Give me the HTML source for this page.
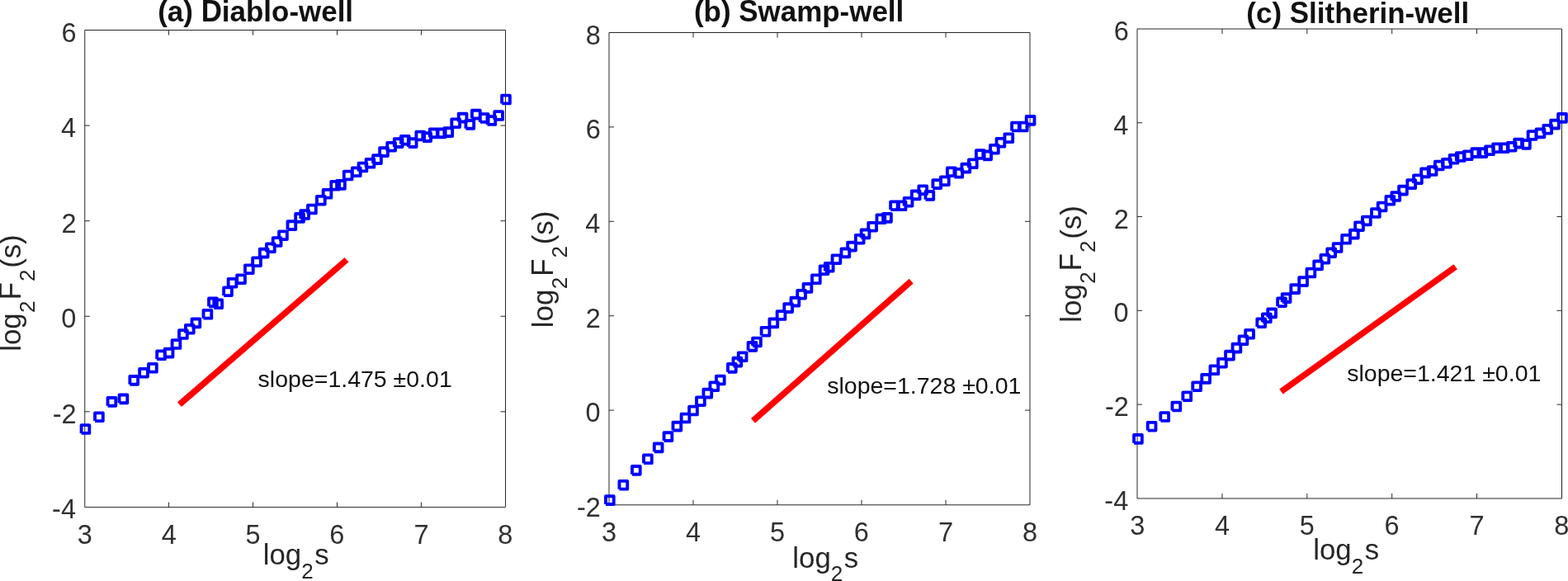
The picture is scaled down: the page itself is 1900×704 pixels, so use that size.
<!DOCTYPE html>
<html><head><meta charset="utf-8"><title>DFA fluctuation plots</title>
<style>
html,body{margin:0;padding:0;background:#fff;}
body{width:1900px;height:704px;overflow:hidden;}
svg{display:block;font-family:"Liberation Sans",Arial,Helvetica,sans-serif;font-kerning:none;}
</style></head><body>
<svg width="1900" height="704" viewBox="0 0 1900 704">
<rect width="1900" height="704" fill="#fff"/>
<path d="M102.75 36.5H612.5V614.6H102.75Z" fill="none" stroke="#262626" stroke-width="1"/>
<path d="M204.56 614.6v-6M204.56 36.5v6M306.52 614.6v-6M306.52 36.5v6M408.48 614.6v-6M408.48 36.5v6M510.44 614.6v-6M510.44 36.5v6M102.75 498.82h6M612.5 498.82h-6M102.75 383.24h6M612.5 383.24h-6M102.75 267.66h6M612.5 267.66h-6M102.75 152.08h6M612.5 152.08h-6" stroke="#262626" stroke-width="1" fill="none"/>
<text x="93.66" y="658.8" font-size="32.5" fill="#303030">3</text>
<text x="195.63" y="658.8" font-size="32.5" fill="#303030">4</text>
<text x="297.51" y="658.8" font-size="32.5" fill="#303030">5</text>
<text x="399.33" y="658.8" font-size="32.5" fill="#303030">6</text>
<text x="501.39" y="658.8" font-size="32.5" fill="#303030">7</text>
<text x="603.36" y="658.8" font-size="32.5" fill="#303030">8</text>
<text x="63.1" y="628.4" font-size="32.5" fill="#303030">-4</text>
<text x="63.79" y="512.82" font-size="32.5" fill="#303030">-2</text>
<text x="74.24" y="397.24" font-size="32.5" fill="#303030">0</text>
<text x="74.61" y="281.66" font-size="32.5" fill="#303030">2</text>
<text x="73.93" y="166.08" font-size="32.5" fill="#303030">4</text>
<text x="74.4" y="50.5" font-size="32.5" fill="#303030">6</text>
<text x="191.21" y="26.1" font-size="34.95" font-weight="bold" fill="#111">(a) </text>
<text transform="translate(243.63 26.1) scale(1 1.04)" font-size="34.95" font-weight="bold" fill="#111">D</text>
<text x="268.87" y="26.1" font-size="34.95" font-weight="bold" fill="#111">iablo-well</text>
<text x="318.76" y="684.4" font-size="34.8" fill="#262626">log</text>
<text x="365.19" y="700.8" font-size="26" fill="#262626">2</text>
<text x="381.13" y="684.4" font-size="34.8" fill="#262626">s</text>
<g transform="translate(25.2 423.4) rotate(-90)">
<text x="-2.34" y="0" font-size="34.8" fill="#262626">log</text>
<text x="44.49" y="16.6" font-size="26" fill="#262626">2</text>
<text transform="translate(60.15 0) scale(1 1.045)" font-size="34.8" fill="#262626">F</text>
<text x="82.39" y="16.6" font-size="26" fill="#262626">2</text>
<text x="98.54" y="0" font-size="34.8" fill="#262626">(s)</text>
</g>
<line x1="217.45" y1="490.2" x2="420.05" y2="314.75" stroke="#ff0000" stroke-width="7.6"/>
<text x="312.61" y="469.4" font-size="28.5" fill="#111">slope=1.475 ±0.01</text>
<path d="M98.57 524.88v-9.75h9.75v9.75h-9.75M115.05 510.07v-9.75h9.75v9.75h-9.75M130.55 491.77v-9.75h9.75v9.75h-9.75M144.57 488.27v-9.75h9.75v9.75h-9.75M157.37 465.77v-9.75h9.75v9.75h-9.75M169.14 456.57v-9.75h9.75v9.75h-9.75M180.04 450.68v-9.75h9.75v9.75h-9.75M190.19 435.18v-9.75h9.75v9.75h-9.75M199.69 432.48v-9.75h9.75v9.75h-9.75M208.6 421.88v-9.75h9.75v9.75h-9.75M217.01 409.88v-9.75h9.75v9.75h-9.75M224.96 403.62v-9.75h9.75v9.75h-9.75M232.51 396.27v-9.75h9.75v9.75h-9.75M246.53 385.68v-9.75h9.75v9.75h-9.75M253.07 371.27v-9.75h9.75v9.75h-9.75M259.33 373.18v-9.75h9.75v9.75h-9.75M271.1 358.07v-9.75h9.75v9.75h-9.75M276.65 347.62v-9.75h9.75v9.75h-9.75M287.16 343.07v-9.75h9.75v9.75h-9.75M296.97 331.12v-9.75h9.75v9.75h-9.75M306.17 322.07v-9.75h9.75v9.75h-9.75M314.83 311.48v-9.75h9.75v9.75h-9.75M323 305.18v-9.75h9.75v9.75h-9.75M330.74 297.88v-9.75h9.75v9.75h-9.75M338.1 290.07v-9.75h9.75v9.75h-9.75M348.49 277.98v-9.75h9.75v9.75h-9.75M358.19 268.77v-9.75h9.75v9.75h-9.75M364.32 264.88v-9.75h9.75v9.75h-9.75M373.06 258.38v-9.75h9.75v9.75h-9.75M383.96 247.57v-9.75h9.75v9.75h-9.75M391.64 239.68v-9.75h9.75v9.75h-9.75M401.29 229.57v-9.75h9.75v9.75h-9.75M408.13 228.78v-9.75h9.75v9.75h-9.75M416.79 217.38v-9.75h9.75v9.75h-9.75M426.94 213.18v-9.75h9.75v9.75h-9.75M434.58 207.38v-9.75h9.75v9.75h-9.75M443.61 202.68v-9.75h9.75v9.75h-9.75M452.11 197.97v-9.75h9.75v9.75h-9.75M460.15 188.97v-9.75h9.75v9.75h-9.75M469.25 182.68v-9.75h9.75v9.75h-9.75M477.82 177.97v-9.75h9.75v9.75h-9.75M485.92 174.57v-9.75h9.75v9.75h-9.75M494.84 177.97v-9.75h9.75v9.75h-9.75M504.41 169.38v-9.75h9.75v9.75h-9.75M512.3 170.97v-9.75h9.75v9.75h-9.75M520.83 166.28v-9.75h9.75v9.75h-9.75M529.87 166.28v-9.75h9.75v9.75h-9.75M538.39 165.03v-9.75h9.75v9.75h-9.75M547.31 154.07v-9.75h9.75v9.75h-9.75M555.71 147.47v-9.75h9.75v9.75h-9.75M564.44 155.78v-9.75h9.75v9.75h-9.75M571.95 143.47v-9.75h9.75v9.75h-9.75M581.85 147.88v-9.75h9.75v9.75h-9.75M590.49 150.88v-9.75h9.75v9.75h-9.75M599.25 144.88v-9.75h9.75v9.75h-9.75M608.12 125.38v-9.75h9.75v9.75h-9.75" fill="none" stroke="#0000ff" stroke-width="3.85" stroke-linejoin="round" stroke-linecap="butt"/>
<path d="M738 39.5H1248V611.8H738Z" fill="none" stroke="#262626" stroke-width="1"/>
<path d="M840 611.8v-6M840 39.5v6M942 611.8v-6M942 39.5v6M1044 611.8v-6M1044 39.5v6M1146 611.8v-6M1146 39.5v6M738 497.1h6M1248 497.1h-6M738 382.7h6M1248 382.7h-6M738 268.3h6M1248 268.3h-6M738 153.9h6M1248 153.9h-6" stroke="#262626" stroke-width="1" fill="none"/>
<text x="729.06" y="656" font-size="32.5" fill="#303030">3</text>
<text x="831.07" y="656" font-size="32.5" fill="#303030">4</text>
<text x="932.99" y="656" font-size="32.5" fill="#303030">5</text>
<text x="1034.85" y="656" font-size="32.5" fill="#303030">6</text>
<text x="1136.95" y="656" font-size="32.5" fill="#303030">7</text>
<text x="1238.96" y="656" font-size="32.5" fill="#303030">8</text>
<text x="699.04" y="625.5" font-size="32.5" fill="#303030">-2</text>
<text x="709.49" y="511.1" font-size="32.5" fill="#303030">0</text>
<text x="709.86" y="396.7" font-size="32.5" fill="#303030">2</text>
<text x="709.18" y="282.3" font-size="32.5" fill="#303030">4</text>
<text x="709.65" y="167.9" font-size="32.5" fill="#303030">6</text>
<text x="709.64" y="53.5" font-size="32.5" fill="#303030">8</text>
<text x="840.96" y="25.85" font-size="34.95" font-weight="bold" fill="#111">(b) </text>
<text transform="translate(895.3 25.85) scale(1 1.04)" font-size="34.95" font-weight="bold" fill="#111">S</text>
<text x="918.61" y="25.85" font-size="34.95" font-weight="bold" fill="#111">wamp-well</text>
<text x="960.31" y="687.6" font-size="34.8" fill="#262626">log</text>
<text x="1006.74" y="704" font-size="26" fill="#262626">2</text>
<text x="1022.68" y="687.6" font-size="34.8" fill="#262626">s</text>
<g transform="translate(670.1 394.8) rotate(-90)">
<text x="-2.34" y="0" font-size="34.8" fill="#262626">log</text>
<text x="44.49" y="16.6" font-size="26" fill="#262626">2</text>
<text transform="translate(60.15 0) scale(1 1.045)" font-size="34.8" fill="#262626">F</text>
<text x="82.39" y="16.6" font-size="26" fill="#262626">2</text>
<text x="98.54" y="0" font-size="34.8" fill="#262626">(s)</text>
</g>
<line x1="912.5" y1="509.8" x2="1104.2" y2="340.65" stroke="#ff0000" stroke-width="7.6"/>
<text x="1002.21" y="476.7" font-size="28.5" fill="#111">slope=1.728 ±0.01</text>
<path d="M733.98 610.98v-9.75h9.75v9.75h-9.75M750.46 592.67v-9.75h9.75v9.75h-9.75M765.96 574.77v-9.75h9.75v9.75h-9.75M779.99 561.17v-9.75h9.75v9.75h-9.75M792.79 547.27v-9.75h9.75v9.75h-9.75M804.57 533.98v-9.75h9.75v9.75h-9.75M815.48 521.52v-9.75h9.75v9.75h-9.75M825.63 511.38v-9.75h9.75v9.75h-9.75M835.12 502.38v-9.75h9.75v9.75h-9.75M844.05 491.12v-9.75h9.75v9.75h-9.75M852.46 481.48v-9.75h9.75v9.75h-9.75M860.41 473.18v-9.75h9.75v9.75h-9.75M867.96 465.38v-9.75h9.75v9.75h-9.75M881.99 450.77v-9.75h9.75v9.75h-9.75M888.53 443.48v-9.75h9.75v9.75h-9.75M894.79 437.18v-9.75h9.75v9.75h-9.75M906.57 424.77v-9.75h9.75v9.75h-9.75M912.12 419.32v-9.75h9.75v9.75h-9.75M922.64 406.57v-9.75h9.75v9.75h-9.75M932.45 396.27v-9.75h9.75v9.75h-9.75M941.65 386.88v-9.75h9.75v9.75h-9.75M950.31 377.98v-9.75h9.75v9.75h-9.75M958.49 370.48v-9.75h9.75v9.75h-9.75M966.24 361.57v-9.75h9.75v9.75h-9.75M973.6 353.77v-9.75h9.75v9.75h-9.75M983.99 343.18v-9.75h9.75v9.75h-9.75M993.69 332.12v-9.75h9.75v9.75h-9.75M999.83 328.62v-9.75h9.75v9.75h-9.75M1008.57 319.07v-9.75h9.75v9.75h-9.75M1019.48 311.27v-9.75h9.75v9.75h-9.75M1027.15 303.48v-9.75h9.75v9.75h-9.75M1036.81 294.57v-9.75h9.75v9.75h-9.75M1043.65 288.27v-9.75h9.75v9.75h-9.75M1052.31 279.57v-9.75h9.75v9.75h-9.75M1062.46 270.18v-9.75h9.75v9.75h-9.75M1070.11 268.77v-9.75h9.75v9.75h-9.75M1079.14 254.07v-9.75h9.75v9.75h-9.75M1087.65 254.18v-9.75h9.75v9.75h-9.75M1095.69 249.57v-9.75h9.75v9.75h-9.75M1104.8 241.28v-9.75h9.75v9.75h-9.75M1113.37 235.07v-9.75h9.75v9.75h-9.75M1121.48 241.78v-9.75h9.75v9.75h-9.75M1130.4 227.97v-9.75h9.75v9.75h-9.75M1139.97 224.07v-9.75h9.75v9.75h-9.75M1147.87 213.18v-9.75h9.75v9.75h-9.75M1156.4 214.68v-9.75h9.75v9.75h-9.75M1165.44 208.47v-9.75h9.75v9.75h-9.75M1173.96 203.18v-9.75h9.75v9.75h-9.75M1182.88 191.88v-9.75h9.75v9.75h-9.75M1191.29 193.28v-9.75h9.75v9.75h-9.75M1200.02 185.68v-9.75h9.75v9.75h-9.75M1207.53 177.68v-9.75h9.75v9.75h-9.75M1217.44 172.07v-9.75h9.75v9.75h-9.75M1226.08 158.38v-9.75h9.75v9.75h-9.75M1234.85 158.38v-9.75h9.75v9.75h-9.75M1243.72 150.78v-9.75h9.75v9.75h-9.75" fill="none" stroke="#0000ff" stroke-width="3.85" stroke-linejoin="round" stroke-linecap="butt"/>
<path d="M1378 35H1892.5V604H1378Z" fill="none" stroke="#262626" stroke-width="1"/>
<path d="M1480.96 604v-6M1480.96 35v6M1583.82 604v-6M1583.82 35v6M1686.68 604v-6M1686.68 35v6M1789.54 604v-6M1789.54 35v6M1378 490.12h6M1892.5 490.12h-6M1378 376.34h6M1892.5 376.34h-6M1378 262.56h6M1892.5 262.56h-6M1378 148.78h6M1892.5 148.78h-6" stroke="#262626" stroke-width="1" fill="none"/>
<text x="1369.16" y="648.2" font-size="32.5" fill="#303030">3</text>
<text x="1472.03" y="648.2" font-size="32.5" fill="#303030">4</text>
<text x="1574.81" y="648.2" font-size="32.5" fill="#303030">5</text>
<text x="1677.53" y="648.2" font-size="32.5" fill="#303030">6</text>
<text x="1780.49" y="648.2" font-size="32.5" fill="#303030">7</text>
<text x="1883.36" y="648.2" font-size="32.5" fill="#303030">8</text>
<text x="1338.35" y="617.9" font-size="32.5" fill="#303030">-4</text>
<text x="1339.04" y="504.12" font-size="32.5" fill="#303030">-2</text>
<text x="1349.49" y="390.34" font-size="32.5" fill="#303030">0</text>
<text x="1349.86" y="276.56" font-size="32.5" fill="#303030">2</text>
<text x="1349.18" y="162.78" font-size="32.5" fill="#303030">4</text>
<text x="1349.65" y="49" font-size="32.5" fill="#303030">6</text>
<text x="1510.36" y="27.6" font-size="34.95" font-weight="bold" fill="#111">(c) </text>
<text transform="translate(1562.78 27.6) scale(1 1.04)" font-size="34.95" font-weight="bold" fill="#111">S</text>
<text x="1586.1" y="27.6" font-size="34.95" font-weight="bold" fill="#111">litherin-well</text>
<text x="1591.26" y="678.4" font-size="34.8" fill="#262626">log</text>
<text x="1637.69" y="694.8" font-size="26" fill="#262626">2</text>
<text x="1653.63" y="678.4" font-size="34.8" fill="#262626">s</text>
<g transform="translate(1310.1 388.3) rotate(-90)">
<text x="-2.34" y="0" font-size="34.8" fill="#262626">log</text>
<text x="44.49" y="16.6" font-size="26" fill="#262626">2</text>
<text transform="translate(60.15 0) scale(1 1.045)" font-size="34.8" fill="#262626">F</text>
<text x="82.39" y="16.6" font-size="26" fill="#262626">2</text>
<text x="98.54" y="0" font-size="34.8" fill="#262626">(s)</text>
</g>
<line x1="1552.4" y1="474.5" x2="1763.7" y2="323.25" stroke="#ff0000" stroke-width="7.6"/>
<text x="1632.21" y="461.5" font-size="28.5" fill="#111">slope=1.421 ±0.01</text>
<path d="M1374.07 536.77v-9.75h9.75v9.75h-9.75M1390.7 521.58v-9.75h9.75v9.75h-9.75M1406.34 509.88v-9.75h9.75v9.75h-9.75M1420.48 497.38v-9.75h9.75v9.75h-9.75M1433.39 485.18v-9.75h9.75v9.75h-9.75M1445.27 473.18v-9.75h9.75v9.75h-9.75M1456.27 463.77v-9.75h9.75v9.75h-9.75M1466.51 453.18v-9.75h9.75v9.75h-9.75M1476.09 444.57v-9.75h9.75v9.75h-9.75M1485.08 435.48v-9.75h9.75v9.75h-9.75M1493.56 426.48v-9.75h9.75v9.75h-9.75M1501.59 417.18v-9.75h9.75v9.75h-9.75M1509.2 409.68v-9.75h9.75v9.75h-9.75M1523.34 396.12v-9.75h9.75v9.75h-9.75M1529.94 390.18v-9.75h9.75v9.75h-9.75M1536.25 384.27v-9.75h9.75v9.75h-9.75M1548.13 371.12v-9.75h9.75v9.75h-9.75M1553.73 365.98v-9.75h9.75v9.75h-9.75M1564.34 354.98v-9.75h9.75v9.75h-9.75M1574.23 345.98v-9.75h9.75v9.75h-9.75M1583.51 335.38v-9.75h9.75v9.75h-9.75M1592.24 326.27v-9.75h9.75v9.75h-9.75M1600.49 318.62v-9.75h9.75v9.75h-9.75M1608.3 311.12v-9.75h9.75v9.75h-9.75M1615.72 304.88v-9.75h9.75v9.75h-9.75M1626.2 294.68v-9.75h9.75v9.75h-9.75M1635.99 288.48v-9.75h9.75v9.75h-9.75M1642.17 279.07v-9.75h9.75v9.75h-9.75M1650.99 272.38v-9.75h9.75v9.75h-9.75M1661.99 262.88v-9.75h9.75v9.75h-9.75M1669.73 255.38v-9.75h9.75v9.75h-9.75M1679.47 247.57v-9.75h9.75v9.75h-9.75M1686.37 242.88v-9.75h9.75v9.75h-9.75M1695.1 235.47v-9.75h9.75v9.75h-9.75M1705.34 227.97v-9.75h9.75v9.75h-9.75M1713.05 222.07v-9.75h9.75v9.75h-9.75M1722.16 214.28v-9.75h9.75v9.75h-9.75M1730.74 211.88v-9.75h9.75v9.75h-9.75M1738.85 205.38v-9.75h9.75v9.75h-9.75M1748.03 202.57v-9.75h9.75v9.75h-9.75M1756.68 197.62v-9.75h9.75v9.75h-9.75M1764.85 194.88v-9.75h9.75v9.75h-9.75M1773.85 193.18v-9.75h9.75v9.75h-9.75M1783.5 189.97v-9.75h9.75v9.75h-9.75M1791.46 189.97v-9.75h9.75v9.75h-9.75M1800.07 187.18v-9.75h9.75v9.75h-9.75M1809.19 184.18v-9.75h9.75v9.75h-9.75M1817.78 184.18v-9.75h9.75v9.75h-9.75M1826.77 182.57v-9.75h9.75v9.75h-9.75M1835.26 178.47v-9.75h9.75v9.75h-9.75M1844.06 179.78v-9.75h9.75v9.75h-9.75M1851.63 168.88v-9.75h9.75v9.75h-9.75M1861.62 166.28v-9.75h9.75v9.75h-9.75M1870.34 161.57v-9.75h9.75v9.75h-9.75M1879.18 155.47v-9.75h9.75v9.75h-9.75M1888.12 147.78v-9.75h9.75v9.75h-9.75" fill="none" stroke="#0000ff" stroke-width="3.85" stroke-linejoin="round" stroke-linecap="butt"/>
</svg>
</body></html>
